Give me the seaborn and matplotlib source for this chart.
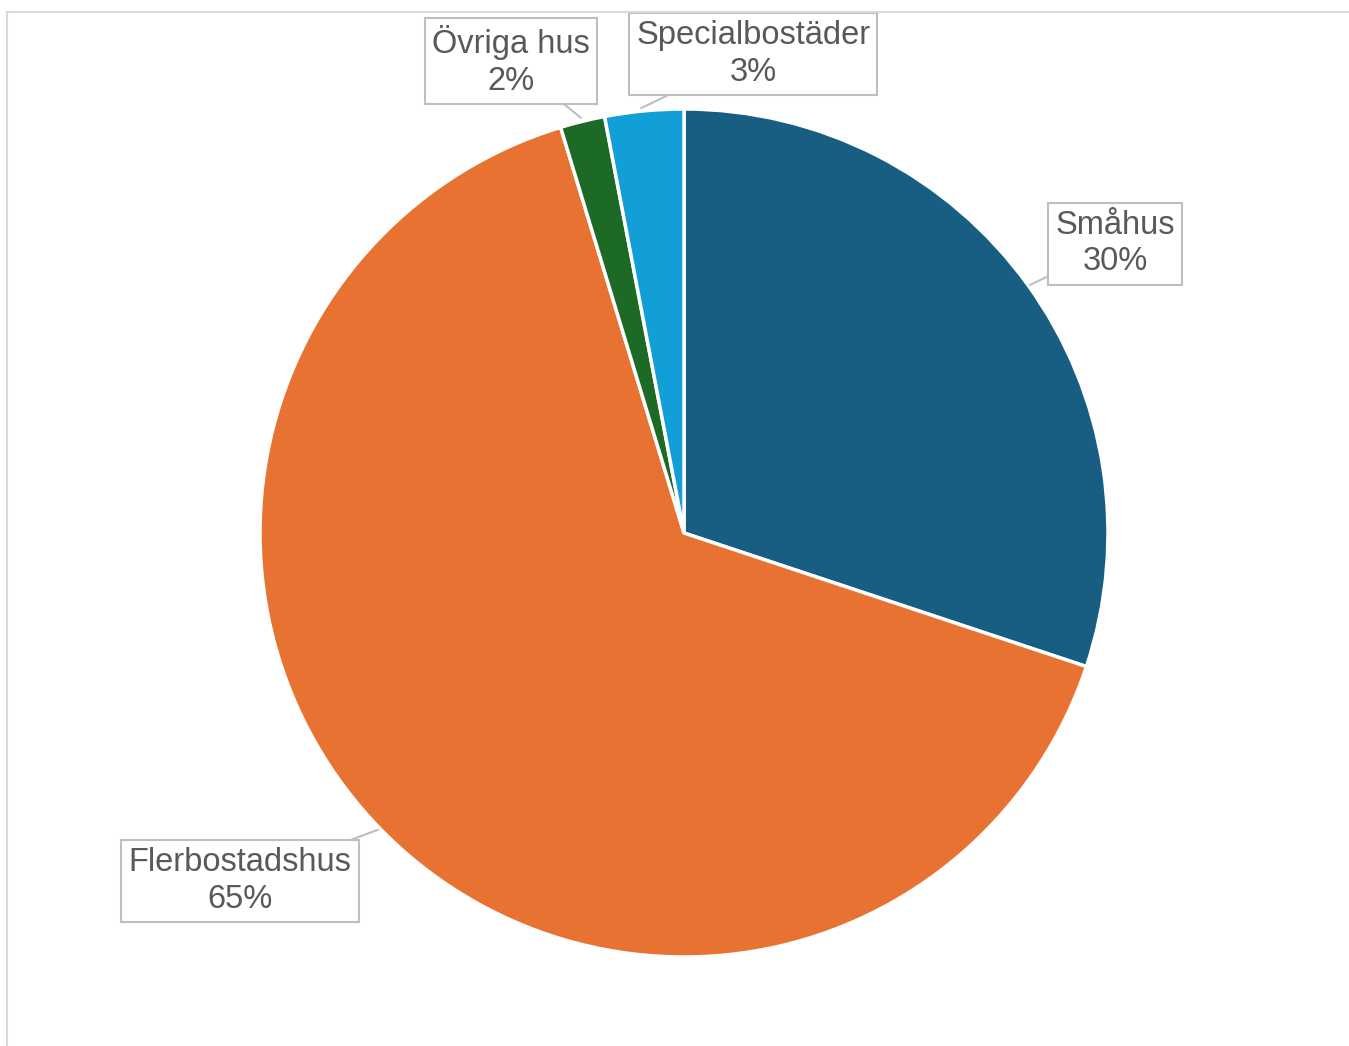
import matplotlib
matplotlib.use("Agg")
import matplotlib.pyplot as plt
import seaborn as sns
from matplotlib.patches import Rectangle

# Andel per hustyp (läst ur diagrammet)
categories = ["Småhus", "Flerbostadshus", "Övriga hus", "Specialbostäder"]
shares = [30.1, 65.2, 1.7, 3.0]
colors = ["#175E82", "#E87232", "#1D6A27", "#129FD7"]

# label box centres and leader tips (data coords, pie radius = 1)
label_pos = [(1.017, 0.682), (-1.047, -0.821), (-0.408, 1.113), (0.163, 1.130)]
tip_pos = [(0.816, 0.585), (-0.722, -0.700), (-0.243, 0.979), (-0.101, 1.002)]

sns.set_theme(style="white")
plt.rcParams["font.family"] = ["Liberation Sans", "DejaVu Sans"]

W, H = 1349, 1046
fig = plt.figure(figsize=(W / 100, H / 100), dpi=100)
fig.patch.set_facecolor("white")

# light grey frame around the chart area (open to the right/bottom)
fig.patches.append(Rectangle((7 / W, -0.05), 1.1, 1 - 12 / H + 0.05,
                             transform=fig.transFigure, fill=False,
                             edgecolor="#D9D9D9", linewidth=1.5))

cx, cy, r = 684, 533, 424
ax = fig.add_axes([(cx - r) / W, (H - cy - r) / H, 2 * r / W, 2 * r / H])
ax.pie(shares, colors=colors, startangle=90, counterclock=False, radius=1,
       wedgeprops=dict(edgecolor="white", linewidth=2.5))
ax.set_xlim(-1, 1)
ax.set_ylim(-1, 1)
ax.set_aspect("equal")
ax.axis("off")

for name, val, (lx, ly), (tx, ty) in zip(categories, shares, label_pos, tip_pos):
    ax.annotate(f"{name}\n{val:.0f}%", xy=(tx, ty), xytext=(lx, ly),
                ha="center", va="center", fontsize=23.5, color="#595959",
                linespacing=1.22, annotation_clip=False,
                bbox=dict(boxstyle="square,pad=0.22", facecolor="white",
                          edgecolor="#BFBFBF", linewidth=1.5),
                arrowprops=dict(arrowstyle="-", color="#BFBFBF", linewidth=1.5,
                                shrinkA=0, shrinkB=0))

fig.savefig("out.png", dpi=100, facecolor="white")
